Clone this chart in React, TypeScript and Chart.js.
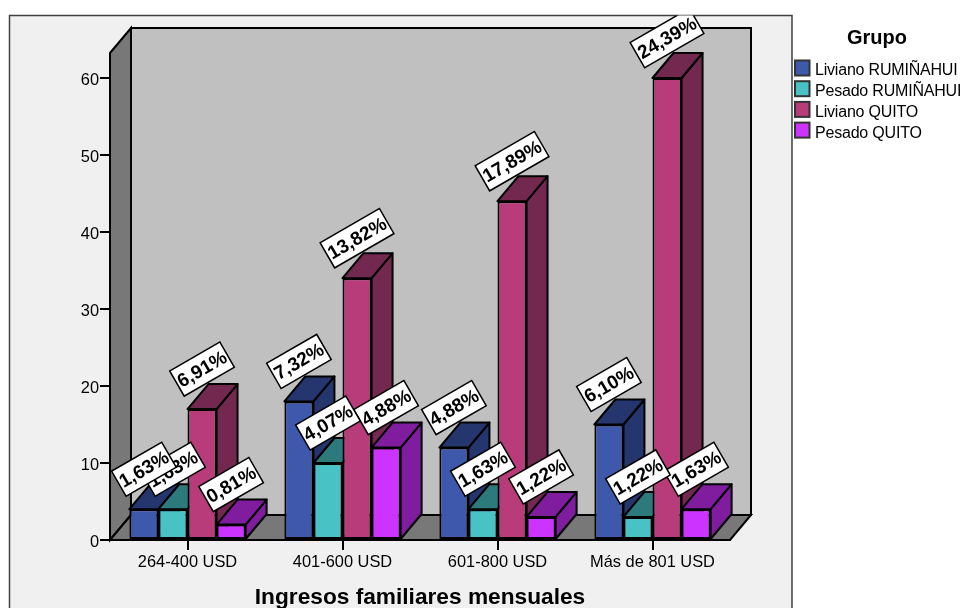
import React, { useEffect, useRef } from "react";
import { Chart, registerables } from "chart.js";

Chart.register(...registerables);

const categories = ["264-400 USD", "401-600 USD", "601-800 USD", "Más de 801 USD"];
const seriesNames = ["Liviano RUMIÑAHUI", "Pesado RUMIÑAHUI", "Liviano QUITO", "Pesado QUITO"];

const livianoRuminahui = [4, 18, 12, 15];
const pesadoRuminahui = [4, 10, 4, 3];
const livianoQuito = [17, 34, 44, 60];
const pesadoQuito = [2, 12, 3, 4];

const livianoRuminahuiPct = ["1,63%", "7,32%", "4,88%", "6,10%"];
const pesadoRuminahuiPct = ["1,63%", "4,07%", "1,63%", "1,22%"];
const livianoQuitoPct = ["6,91%", "13,82%", "17,89%", "24,39%"];
const pesadoQuitoPct = ["0,81%", "4,88%", "1,22%", "1,63%"];

const frontColors = ["#3e58ac", "#48c2c5", "#b83b7a", "#cc33ff"];
const sideColors = ["#25356e", "#2d7a7c", "#72284f", "#7f1d9e"];

const FONT = '"Liberation Sans", Arial, sans-serif';
const DEPTH_X = 21;
const DEPTH_Y = 25;
const FRAME = { left: 9.5, top: 15.5, right: 792, bottom: 640 };

const polygon = (ctx: CanvasRenderingContext2D, pts: number[][], fill: string, lineWidth = 2) => {
  ctx.beginPath();
  pts.forEach(([x, y], i) => (i ? ctx.lineTo(x, y) : ctx.moveTo(x, y)));
  ctx.closePath();
  ctx.fillStyle = fill;
  ctx.fill();
  ctx.lineWidth = lineWidth;
  ctx.strokeStyle = "#000";
  ctx.stroke();
};

// Panel background with the side wall, back wall and floor of the 3D box.
const wallsPlugin = {
  id: "walls",
  beforeDraw(chart: any) {
    const { ctx, chartArea: a } = chart;
    const frontTop = a.top - DEPTH_Y;
    const backTop = frontTop - DEPTH_Y;
    ctx.save();
    ctx.fillStyle = "#f0f0f0";
    ctx.strokeStyle = "#404040";
    ctx.lineWidth = 1.5;
    ctx.fillRect(FRAME.left, FRAME.top, FRAME.right - FRAME.left, FRAME.bottom - FRAME.top);
    ctx.strokeRect(FRAME.left, FRAME.top, FRAME.right - FRAME.left, FRAME.bottom - FRAME.top);
    const backL = a.left + DEPTH_X;
    const backR = a.right + DEPTH_X;
    const backB = a.bottom - DEPTH_Y;
    polygon(ctx, [[backL, backTop], [backR, backTop], [backR, backB], [backL, backB]], "#c0c0c0");
    polygon(ctx, [[a.left, frontTop], [backL, backTop], [backL, backB], [a.left, a.bottom]], "#787878");
    polygon(ctx, [[a.left, a.bottom], [backL, backB], [backR, backB], [a.right, a.bottom]], "#787878");
    ctx.restore();
  },
};

// Side and top faces of each bar, painted left to right behind the front faces.
const depthPlugin = {
  id: "barDepth",
  beforeDatasetsDraw(chart: any) {
    const { ctx } = chart;
    ctx.save();
    ctx.lineJoin = "round";
    categories.forEach((_, c) => {
      chart.data.datasets.forEach((_ds: any, s: number) => {
        const bar = chart.getDatasetMeta(s).data[c];
        const l = bar.x - bar.width / 2;
        const r = bar.x + bar.width / 2;
        const t = bar.y;
        const b = bar.base;
        polygon(ctx, [[r, t], [r + DEPTH_X, t - DEPTH_Y], [r + DEPTH_X, b - DEPTH_Y], [r, b]], sideColors[s]);
        polygon(ctx, [[l, t], [l + DEPTH_X, t - DEPTH_Y], [r + DEPTH_X, t - DEPTH_Y], [r, t]], sideColors[s]);
      });
    });
    ctx.restore();
  },
};

// Rotated percentage tags, clipped to the panel.
const tagsPlugin = {
  id: "percentTags",
  afterDatasetsDraw(chart: any) {
    const { ctx } = chart;
    ctx.save();
    ctx.beginPath();
    ctx.rect(FRAME.left, FRAME.top, FRAME.right - FRAME.left, FRAME.bottom - FRAME.top);
    ctx.clip();
    ctx.font = `bold 19px ${FONT}`;
    ctx.textAlign = "center";
    ctx.textBaseline = "middle";
    for (let s = chart.data.datasets.length - 1; s >= 0; s--) {
      const ds = chart.data.datasets[s];
      chart.getDatasetMeta(s).data.forEach((bar: any, c: number) => {
        const text = ds.tags[c];
        const w = ctx.measureText(text).width + 4;
        const h = 29;
        ctx.save();
        ctx.translate(bar.x, bar.y - 40);
        ctx.rotate((-30 * Math.PI) / 180);
        ctx.fillStyle = "#fff";
        ctx.strokeStyle = "#000";
        ctx.lineWidth = 1.5;
        ctx.fillRect(-w / 2, -h / 2, w, h);
        ctx.strokeRect(-w / 2, -h / 2, w, h);
        ctx.fillStyle = "#000";
        ctx.fillText(text, 0, 1);
        ctx.restore();
      });
    }
    ctx.restore();
  },
};

// Legend block in the right margin.
const groupLegendPlugin = {
  id: "groupLegend",
  afterDraw(chart: any) {
    const { ctx } = chart;
    ctx.save();
    ctx.fillStyle = "#000";
    ctx.textBaseline = "middle";
    ctx.font = `bold 20px ${FONT}`;
    ctx.textAlign = "center";
    ctx.fillText("Grupo", 877, 38);
    ctx.textAlign = "left";
    ctx.font = `16px ${FONT}`;
    (ctx as any).letterSpacing = "-0.2px";
    chart.data.datasets.forEach((ds: any, i: number) => {
      const y = 60.5 + i * 20.7;
      ctx.fillStyle = ds.backgroundColor;
      ctx.strokeStyle = "#333";
      ctx.lineWidth = 2;
      ctx.fillRect(795, y, 14.5, 15);
      ctx.strokeRect(795, y, 14.5, 15);
      ctx.fillStyle = "#000";
      ctx.fillText(ds.label, 815, y + 10.5);
    });
    ctx.restore();
  },
};

export default function App() {
  const ref = useRef<HTMLCanvasElement | null>(null);

  useEffect(() => {
    const seriesValues = [livianoRuminahui, pesadoRuminahui, livianoQuito, pesadoQuito];
    const seriesTags = [livianoRuminahuiPct, pesadoRuminahuiPct, livianoQuitoPct, pesadoQuitoPct];
    const chart = new Chart(ref.current as HTMLCanvasElement, {
      type: "bar",
      data: {
        labels: categories,
        datasets: seriesNames.map((label, i) => ({
          label,
          data: seriesValues[i],
          tags: seriesTags[i],
          backgroundColor: frontColors[i],
          borderColor: "#000",
          borderWidth: 2,
          borderSkipped: false,
          barPercentage: 1,
          categoryPercentage: 0.75,
        })) as any,
      },
      plugins: [wallsPlugin, depthPlugin, tagsPlugin, groupLegendPlugin],
      options: {
        responsive: false,
        animation: false,
        layout: { padding: { top: 78, right: 234, left: 0, bottom: 0 } },
        plugins: { legend: { display: false }, tooltip: { enabled: false }, title: { display: false } },
        scales: {
          x: {
            afterFit: (scale: any) => { scale.height = 68; },
            grid: { drawOnChartArea: false, drawTicks: true, tickLength: 10, offset: false, color: "#000", lineWidth: 2 },
            border: { color: "#000", width: 2 },
            ticks: { color: "#000", font: { family: FONT, size: 16.4 }, padding: 3, maxRotation: 0, autoSkip: false },
            title: {
              display: true,
              text: "Ingresos familiares mensuales",
              color: "#000",
              font: { family: FONT, size: 22.7, weight: "bold" },
              padding: { top: 0, bottom: -3 },
            },
          },
          y: {
            min: 0,
            max: 60,
            afterFit: (scale: any) => { scale.width = 110; },
            grid: { drawOnChartArea: false, drawTicks: true, tickLength: 10, color: "#000", lineWidth: 2 },
            border: { color: "#000", width: 2 },
            ticks: {
              color: "#000",
              stepSize: 10,
              // A blank first line nudges each number just below its tick.
              callback: (v: any) => ["", String(v)],
              font: { family: FONT, size: 16.4, lineHeight: 0.25 },
              padding: 1,
            },
          },
        },
      } as any,
    });
    return () => chart.destroy();
  }, []);

  return (
    <div style={{ position: "fixed", left: 0, top: 0, width: 964, height: 608, background: "#fff", overflow: "hidden" }}>
      <canvas ref={ref} width={964} height={608} style={{ display: "block" }} />
    </div>
  );
}
